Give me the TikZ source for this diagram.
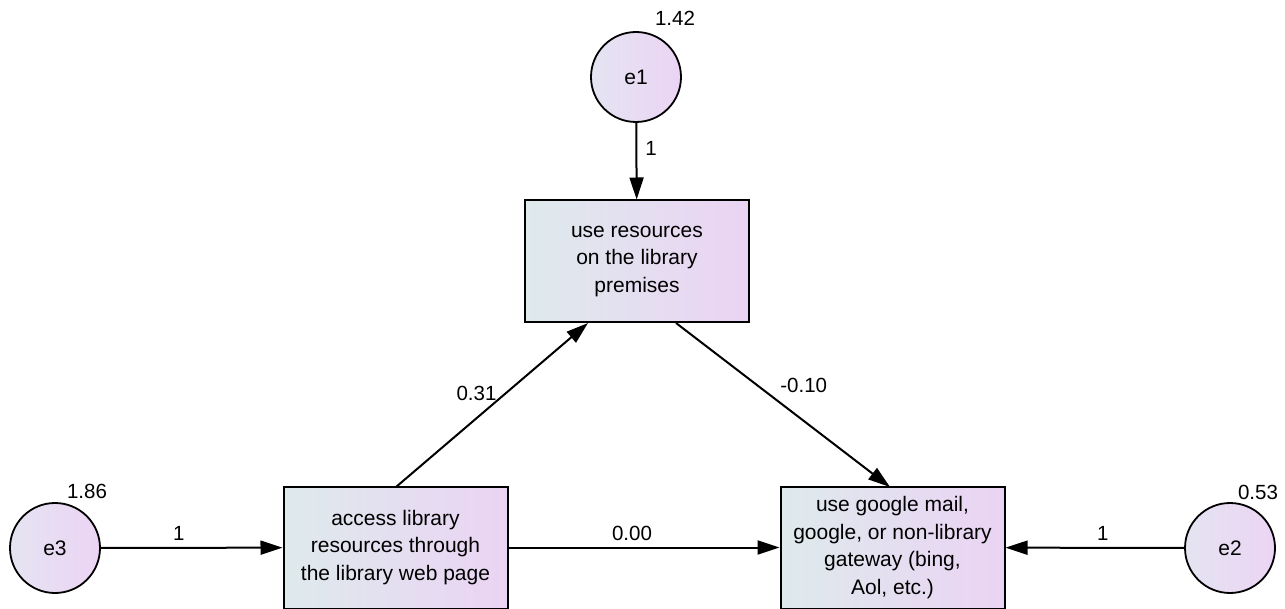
\documentclass[tikz,border=0pt]{standalone}
\usepackage{fontspec}
\setmainfont{Liberation Sans}
\usetikzlibrary{arrows.meta}
\definecolor{gA}{HTML}{DEEAEC}
\definecolor{gB}{HTML}{EBD3F4}
\definecolor{cA}{HTML}{E4E4F2}
\definecolor{cB}{HTML}{ECD4F4}
\tikzset{
  obs/.style={draw=black, line width=2pt, left color=gA, right color=gB,
    minimum width=224pt, minimum height=122pt, align=center, inner sep=0pt,
    font=\fontsize{21}{27.5}\selectfont},
  err/.style={draw=black, line width=1.8pt, circle, left color=cA, right color=cB,
    minimum size=90pt, inner sep=0pt, font=\fontsize{21}{24}\selectfont},
  path/.style={line width=2pt, -{Triangle[length=22pt,width=14pt]}},
  lbl/.style={font=\fontsize{20.5}{24}\selectfont, inner sep=0pt}
}
\begin{document}
\begin{tikzpicture}[x=1pt,y=1pt]
\useasboundingbox (0,0) rectangle (1285,-609);
\node[obs] (top) at (637,-261.5) {use resources\\on the library\\premises};
\node[obs] (left) at (395.5,-547.5) {access library\\resources through\\the library web page};
\node[obs] (right) at (892.5,-547.5) {use google mail,\\google, or non-library\\gateway (bing,\\Aol, etc.)};
\node[err] (e1) at (636,-77) {e1};
\node[err] (e3) at (55,-548) {e3};
\node[err] (e2) at (1230,-548) {e2};
\node[lbl] (v1) at (675,-18) {1.42};
\node[lbl] (v3) at (87,-491) {1.86};
\node[lbl] (v2) at (1258,-492) {0.53};
\coordinate (ls) at (396,-487);
\coordinate (te) at (588,-323);
\coordinate (ts) at (676,-323);
\coordinate (re) at (890,-487);
\draw[path] (e1) -- (top) node[lbl, pos=0.33, right=8pt] {1};
\draw[path] (e3) -- (left) node[lbl, midway, above=6pt, xshift=-13pt] {1};
\draw[path] (left) -- (right) node[lbl, midway, above=6pt, xshift=-12pt] {0.00};
\draw[path] (e2) -- (right) node[lbl, midway, above=6pt, xshift=8pt] {1};
\draw[path] (ls) -- (te) node[lbl, pos=0.57, left=8pt] {0.31};
\draw[path] (ts) -- (re) node[lbl, pos=0.38, right=22pt] {-0.10};
\end{tikzpicture}
\end{document}
